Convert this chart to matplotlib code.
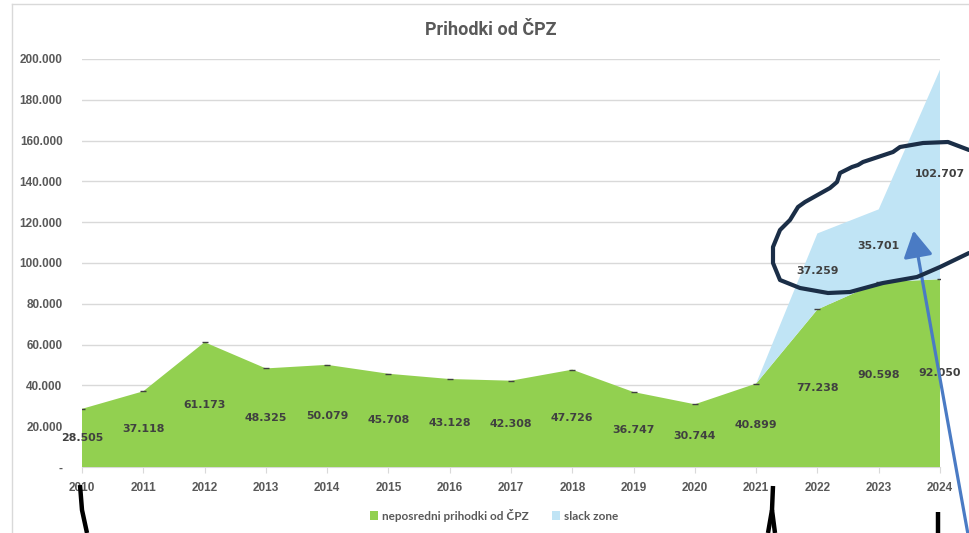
import matplotlib.pyplot as plt
from matplotlib.lines import Line2D
from matplotlib.patches import FancyArrowPatch

# chart data (values in EUR, shown with '.' thousands separator)
years = [2010, 2011, 2012, 2013, 2014, 2015, 2016, 2017, 2018, 2019, 2020, 2021, 2022, 2023, 2024]
direct_income = [28505, 37118, 61173, 48325, 50079, 45708, 43128, 42308, 47726, 36747, 30744, 40899, 77238, 90598, 92050]
slack_zone = [0, 0, 0, 0, 0, 0, 0, 0, 0, 0, 0, 0, 37259, 35701, 102707]
y_ticks = [0, 20000, 40000, 60000, 80000, 100000, 120000, 140000, 160000, 180000, 200000]

GREEN = '#92D050'
BLUE = '#C0E4F5'
TICK_GREY = '#595959'
LABEL_GREY = '#404040'
GRID = '#D9D9D9'

W, H = 969, 533


def fmt(v):
    if v == 0:
        return '-'
    return f"{v:,.0f}".replace(',', '.')


def px(x, y):
    # image pixel -> figure fraction
    return x / W, 1 - y / H


fig = plt.figure(figsize=(W / 100, H / 100), dpi=100)
ax = fig.add_axes([82 / W, 1 - 467 / H, 858 / W, 408 / H])

ax.stackplot(years, direct_income, slack_zone, colors=[GREEN, BLUE],
             labels=['neposredni prihodki od ČPZ', 'slack zone'], linewidth=0)
ax.plot(years, direct_income, ls='none', marker='_', ms=4, mew=1, color=LABEL_GREY)

# data labels
for yr, g, s in zip(years, direct_income, slack_zone):
    ax.text(yr, g / 2, fmt(g), ha='center', va='center', fontsize=7.9,
            fontweight='bold', color=LABEL_GREY, family='DejaVu Sans')
    if s > 0:
        ax.text(yr, g + s / 2, fmt(s), ha='center', va='center', fontsize=7.9,
                fontweight='bold', color=LABEL_GREY, family='DejaVu Sans')

ax.set_xlim(2010, 2024)
ax.set_ylim(0, 200000)
ax.set_yticks(y_ticks)
ax.set_yticklabels([fmt(v) for v in y_ticks])
ax.set_xticks(years)
ax.set_xticklabels([str(y) for y in years])
for lab in ax.get_xticklabels() + ax.get_yticklabels():
    lab.set_family('Liberation Sans')
    lab.set_fontweight('bold')
    lab.set_fontsize(8.5)
    lab.set_color(TICK_GREY)

ax.grid(axis='y', color=GRID, lw=1)
ax.set_axisbelow(True)
for side in ['top', 'right', 'left']:
    ax.spines[side].set_visible(False)
ax.spines['bottom'].set_color(GRID)
ax.spines['bottom'].set_zorder(0.5)
ax.tick_params(axis='y', length=0, pad=14)
ax.tick_params(axis='x', length=4, color=GRID, pad=7)

fig.text(491 / W, 1 - 30 / H, 'Prihodki od ČPZ', ha='center', va='center',
         fontsize=13, fontweight='bold', color=TICK_GREY, family='Roboto')

leg = fig.legend(loc='center', bbox_to_anchor=(494 / W, 1 - 515 / H), ncol=2, frameon=False,
                 prop={'family': 'Lato', 'weight': 'bold', 'size': 8.5},
                 handlelength=0.7, handleheight=0.7, handletextpad=0.3, columnspacing=2.0)
for t in leg.get_texts():
    t.set_color(TICK_GREY)

# chart frame lines
fig.add_artist(Line2D([12 / W, 12 / W], [0, 1 - 4 / H], color=GRID, lw=1))
fig.add_artist(Line2D([12 / W, 1], [1 - 4 / H, 1 - 4 / H], color=GRID, lw=1))

# hand drawn marks
ellipse = [(969, 150), (948, 142), (923, 143), (900, 147), (893, 152), (863, 162),
           (858, 165), (852, 167), (840, 173), (837, 182), (830, 188), (805, 202),
           (798, 207), (790, 220), (780, 230), (773, 247), (773, 263), (780, 280),
           (800, 288), (828, 293), (850, 292), (883, 283), (917, 277), (940, 267),
           (969, 253)]
ex, ey = zip(*[px(x, y) for x, y in ellipse])
fig.add_artist(Line2D(ex, ey, color='#1B2E47', lw=3, solid_capstyle='round',
                      solid_joinstyle='round'))

strokes = [
    [(80, 485), (82, 510), (87, 533)],
    [(773, 486), (772, 510), (768, 533)],
    [(772, 510), (775, 533)],
    [(938, 512), (938, 533)],
]
for st in strokes:
    sx, sy = zip(*[px(x, y) for x, y in st])
    fig.add_artist(Line2D(sx, sy, color='black', lw=3.2, solid_capstyle='butt'))

arrow = FancyArrowPatch(px(969, 540), px(913, 228), transform=fig.transFigure,
                        arrowstyle='-|>,head_length=8,head_width=4.5', lw=2.3,
                        color='#4A7BC4', mutation_scale=2)
fig.add_artist(arrow)

fig.savefig('out.png', dpi=100)
